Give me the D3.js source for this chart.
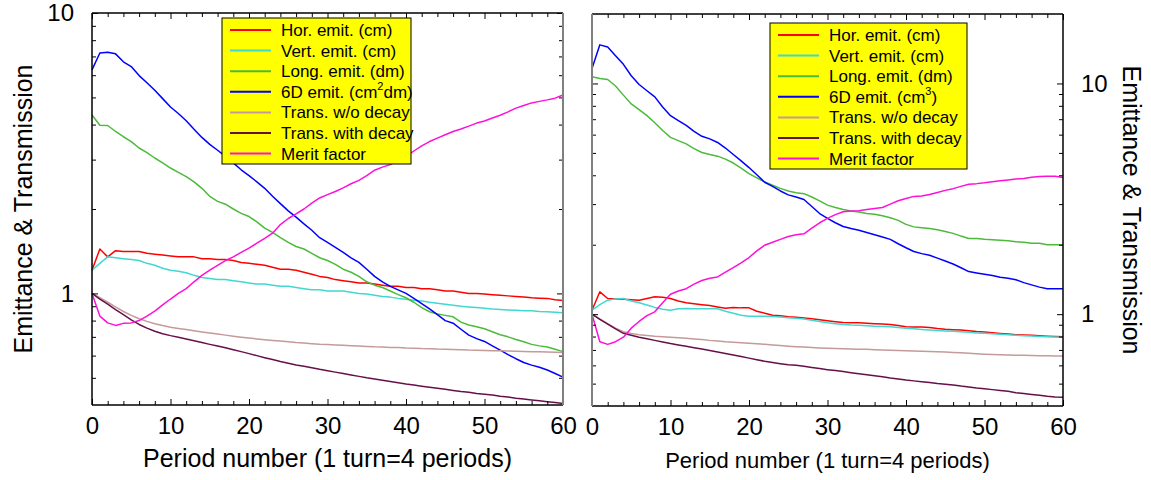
<!DOCTYPE html>
<html>
<head>
<meta charset="utf-8">
<script src="https://cdn.jsdelivr.net/npm/d3@7"></script>
<style>
  html, body { margin: 0; padding: 0; background: #fff; }
  svg { display: block; font-family: "Liberation Sans", Arial, Helvetica, sans-serif; }
</style>
</head>
<body>
<svg id="chart" width="1151" height="480"></svg>
<script>
// Period numbers 0..60 (1 turn = 4 periods)
const periods = d3.range(0, 61);

// ---- Left lattice ----
const leftHor = [1.21,1.44,1.35,1.42,1.41,1.41,1.41,1.39,1.38,1.37,1.36,1.35,1.35,1.35,1.33,1.33,1.32,1.32,1.31,1.29,1.28,1.27,1.26,1.24,1.22,1.22,1.21,1.19,1.17,1.15,1.14,1.12,1.11,1.10,1.09,1.09,1.08,1.07,1.06,1.06,1.05,1.05,1.04,1.04,1.03,1.02,1.02,1.01,1.00,1.00,0.995,0.99,0.985,0.98,0.975,0.97,0.965,0.962,0.96,0.95,0.943];
const leftVert = [1.21,1.28,1.35,1.34,1.33,1.32,1.31,1.28,1.26,1.23,1.21,1.20,1.185,1.16,1.14,1.13,1.12,1.12,1.11,1.10,1.09,1.08,1.08,1.07,1.06,1.06,1.05,1.04,1.03,1.03,1.02,1.02,1.02,1.01,1.00,0.995,0.985,0.975,0.97,0.96,0.953,0.945,0.94,0.93,0.922,0.915,0.908,0.90,0.895,0.89,0.885,0.88,0.877,0.873,0.87,0.868,0.867,0.862,0.86,0.856,0.853];
const leftLong = [4.33,3.98,3.97,3.78,3.62,3.48,3.30,3.18,3.04,2.92,2.80,2.70,2.61,2.50,2.37,2.22,2.13,2.08,2.00,1.93,1.88,1.80,1.71,1.65,1.58,1.52,1.47,1.44,1.39,1.34,1.31,1.27,1.22,1.19,1.15,1.10,1.07,1.05,1.02,0.99,0.965,0.93,0.89,0.86,0.845,0.835,0.825,0.79,0.772,0.76,0.748,0.73,0.712,0.70,0.685,0.672,0.658,0.65,0.644,0.632,0.62];
const left6D = [6.27,7.20,7.25,7.15,6.70,6.44,5.98,5.64,5.30,4.95,4.62,4.38,4.13,3.85,3.60,3.40,3.24,3.08,2.92,2.76,2.63,2.50,2.37,2.22,2.09,1.97,1.87,1.77,1.68,1.58,1.52,1.46,1.40,1.34,1.29,1.22,1.15,1.10,1.06,1.03,1.00,0.96,0.92,0.88,0.84,0.80,0.783,0.745,0.71,0.69,0.674,0.65,0.628,0.605,0.585,0.567,0.555,0.545,0.533,0.518,0.503];
const leftTransNoDecay = [1.0,0.965,0.93,0.895,0.862,0.835,0.812,0.795,0.78,0.768,0.758,0.75,0.743,0.736,0.729,0.722,0.716,0.71,0.704,0.698,0.693,0.688,0.684,0.68,0.676,0.672,0.668,0.665,0.662,0.659,0.657,0.655,0.653,0.651,0.649,0.647,0.645,0.644,0.642,0.641,0.639,0.638,0.636,0.635,0.633,0.632,0.631,0.63,0.628,0.627,0.626,0.625,0.624,0.623,0.622,0.621,0.62,0.619,0.618,0.617,0.616];
const leftTransDecay = [1.0,0.955,0.915,0.875,0.84,0.805,0.775,0.752,0.733,0.718,0.707,0.698,0.688,0.678,0.668,0.658,0.649,0.64,0.63,0.62,0.61,0.60,0.59,0.581,0.572,0.564,0.556,0.55,0.543,0.536,0.53,0.524,0.518,0.512,0.506,0.50,0.495,0.49,0.485,0.48,0.475,0.471,0.467,0.463,0.459,0.455,0.451,0.447,0.444,0.44,0.437,0.434,0.43,0.427,0.423,0.42,0.417,0.414,0.411,0.408,0.405];
const leftMerit = [1.0,0.83,0.785,0.769,0.782,0.785,0.80,0.83,0.865,0.91,0.955,1.0,1.04,1.10,1.16,1.21,1.26,1.31,1.35,1.40,1.45,1.51,1.57,1.64,1.76,1.85,1.92,2.0,2.10,2.19,2.25,2.31,2.38,2.46,2.53,2.63,2.75,2.82,2.88,2.98,3.08,3.22,3.36,3.48,3.58,3.68,3.78,3.86,3.95,4.05,4.12,4.22,4.32,4.44,4.58,4.68,4.78,4.84,4.90,4.97,5.10];

// ---- Right lattice ----
const rightHor = [1.04,1.25,1.17,1.165,1.16,1.155,1.15,1.17,1.19,1.185,1.17,1.14,1.12,1.11,1.10,1.09,1.075,1.06,1.07,1.065,1.065,1.03,1.01,0.99,0.985,0.975,0.97,0.962,0.955,0.945,0.936,0.928,0.92,0.918,0.918,0.914,0.91,0.906,0.903,0.893,0.882,0.88,0.879,0.876,0.866,0.86,0.856,0.853,0.847,0.841,0.838,0.831,0.825,0.82,0.815,0.812,0.81,0.806,0.803,0.80,0.798];
const rightVert = [1.04,1.10,1.15,1.165,1.17,1.14,1.12,1.095,1.07,1.05,1.04,1.055,1.058,1.056,1.055,1.055,1.055,1.03,1.01,0.99,0.98,0.98,0.98,0.978,0.972,0.965,0.96,0.952,0.942,0.93,0.918,0.91,0.903,0.898,0.895,0.89,0.886,0.884,0.882,0.876,0.87,0.864,0.859,0.855,0.85,0.846,0.843,0.839,0.834,0.829,0.826,0.822,0.818,0.814,0.81,0.807,0.804,0.801,0.798,0.796,0.794];
const rightLong = [10.7,10.5,10.4,9.75,8.9,8.15,7.7,7.25,6.76,6.25,5.84,5.65,5.47,5.22,5.02,4.92,4.84,4.70,4.52,4.30,4.07,3.90,3.74,3.62,3.51,3.42,3.36,3.33,3.22,3.10,2.97,2.90,2.84,2.80,2.77,2.73,2.71,2.67,2.62,2.55,2.45,2.39,2.37,2.35,2.32,2.28,2.24,2.18,2.13,2.13,2.11,2.10,2.09,2.08,2.06,2.05,2.03,2.03,2.0,2.0,2.0];
const right6D = [11.6,14.7,14.4,13.2,12.1,10.8,9.9,9.3,8.75,7.9,7.25,6.9,6.58,6.2,5.9,5.75,5.55,5.25,4.92,4.62,4.32,4.02,3.73,3.58,3.42,3.29,3.22,3.14,2.93,2.73,2.60,2.49,2.40,2.35,2.31,2.26,2.21,2.16,2.11,2.02,1.94,1.87,1.83,1.80,1.75,1.70,1.65,1.59,1.53,1.51,1.49,1.47,1.445,1.43,1.41,1.37,1.34,1.31,1.29,1.29,1.29];
const rightTransNoDecay = [1.0,0.955,0.91,0.87,0.84,0.825,0.815,0.808,0.802,0.798,0.794,0.79,0.786,0.781,0.776,0.77,0.766,0.76,0.756,0.752,0.748,0.744,0.74,0.736,0.731,0.727,0.723,0.72,0.717,0.714,0.712,0.71,0.708,0.706,0.705,0.704,0.702,0.70,0.698,0.696,0.695,0.693,0.691,0.689,0.688,0.686,0.683,0.68,0.677,0.673,0.67,0.668,0.667,0.665,0.664,0.663,0.662,0.661,0.66,0.659,0.658];
const rightTransDecay = [1.0,0.95,0.905,0.863,0.826,0.81,0.795,0.782,0.77,0.758,0.746,0.736,0.726,0.716,0.706,0.696,0.686,0.676,0.665,0.655,0.645,0.635,0.625,0.617,0.61,0.604,0.601,0.595,0.588,0.581,0.575,0.57,0.564,0.558,0.552,0.547,0.541,0.535,0.529,0.524,0.518,0.514,0.51,0.506,0.501,0.497,0.493,0.488,0.484,0.479,0.475,0.471,0.467,0.463,0.457,0.453,0.449,0.445,0.441,0.438,0.436];
const rightMerit = [1.0,0.76,0.74,0.76,0.795,0.87,0.93,0.985,1.024,1.12,1.22,1.26,1.29,1.35,1.40,1.43,1.45,1.52,1.59,1.67,1.76,1.88,1.99,2.05,2.11,2.17,2.21,2.23,2.36,2.49,2.60,2.70,2.78,2.80,2.81,2.84,2.87,2.90,3.0,3.10,3.17,3.24,3.25,3.30,3.37,3.44,3.50,3.58,3.66,3.68,3.71,3.75,3.79,3.82,3.85,3.87,3.92,3.95,3.96,3.96,3.91];

// Legend labels (the 6D unit differs between the two lattices)
const legendLeft = ["Hor. emit. (cm)", "Vert. emit. (cm)", "Long. emit. (dm)", ["6D emit. (cm", "2", "dm)"], "Trans. w/o decay", "Trans. with decay", "Merit factor"];
const legendRight = ["Hor. emit. (cm)", "Vert. emit. (cm)", "Long. emit. (dm)", ["6D emit. (cm", "3", ")"], "Trans. w/o decay", "Trans. with decay", "Merit factor"];

// Axis ticks and titles
const xMajorTicks = [0, 10, 20, 30, 40, 50, 60];
const xMinorTicks = d3.range(0, 61, 2).filter(v => v % 10 !== 0);
const yMajorTicks = [1, 10];
const yMinorTicks = [0.5, 0.6, 0.7, 0.8, 0.9, 2, 3, 4, 5, 6, 7, 8, 9];
const xTitle = "Period number (1 turn=4 periods)";
const yTitle = "Emittance & Transmission";

const seriesColors = ["#ff0000", "#40d8d0", "#4cbb3a", "#0000ff", "#c49a9a", "#66104a", "#ff10d8"];

const svg = d3.select("#chart");

function drawPanel(cfg) {
  const g = svg.append("g");
  const x = d3.scaleLinear().domain([0, 60]).range([cfg.left, cfg.right]);
  const y = d3.scaleLog().domain(cfg.yDomain).range([cfg.bottom, cfg.top]);

  // curves
  const line = d3.line().x((d, i) => x(periods[i])).y(d => y(d));
  cfg.series.forEach((s, i) => {
    g.append("path")
      .datum(s)
      .attr("fill", "none")
      .attr("stroke", seriesColors[i])
      .attr("stroke-width", 1.5)
      .attr("stroke-linejoin", "round")
      .attr("d", line);
  });

  // axes with inward ticks
  const yMinor = yMinorTicks.filter(v => v > cfg.yDomain[0] && v < cfg.yDomain[1]);
  const addAxis = (gen, tx, ty, values, size, labels, cls) => {
    const a = g.append("g").attr("transform", `translate(${tx},${ty})`).attr("class", cls)
      .call(gen.tickValues(values).tickSize(size).tickPadding(labels ? 8 : 0)
        .tickFormat(labels ? d3.format("d") : () => ""));
    a.select(".domain").remove();
    a.selectAll(".tick line").attr("stroke", "#000").attr("stroke-width", 1);
    a.selectAll(".tick text").attr("font-size", 24).attr("fill", "#000")
      .attr("font-family", "Liberation Sans, Arial, sans-serif");
    return a;
  };
  // bottom
  const xb = addAxis(d3.axisBottom(x), 0, cfg.bottom, xMajorTicks, -6, true, "xb");
  xb.selectAll(".tick text").attr("y", 12).attr("dy", "0.71em");
  addAxis(d3.axisBottom(x), 0, cfg.bottom, xMinorTicks, -4, false);
  // top
  addAxis(d3.axisTop(x), 0, cfg.top, xMajorTicks, -6, false);
  addAxis(d3.axisTop(x), 0, cfg.top, xMinorTicks, -4, false);
  // left
  const yl = addAxis(d3.axisLeft(y), cfg.left, 0, yMajorTicks, -6, cfg.labelSide === "left");
  addAxis(d3.axisLeft(y), cfg.left, 0, yMinor, -4, false);
  // right
  const yr = addAxis(d3.axisRight(y), cfg.right, 0, yMajorTicks, -6, cfg.labelSide === "right");
  addAxis(d3.axisRight(y), cfg.right, 0, yMinor, -4, false);
  if (cfg.labelSide === "left") yl.selectAll(".tick text").attr("x", -18);
  else yr.selectAll(".tick text").attr("x", 18);

  // frame
  const edge = (x1, y1, x2, y2, color, w) => g.append("line")
    .attr("x1", x1).attr("y1", y1).attr("x2", x2).attr("y2", y2)
    .attr("stroke", color).attr("stroke-width", w);
  edge(cfg.left, cfg.top, cfg.right, cfg.top, "#000", 1.5);
  edge(cfg.left, cfg.bottom, cfg.right, cfg.bottom, "#000", 1.5);
  edge(cfg.left, cfg.top, cfg.left, cfg.bottom, cfg.labelSide === "left" ? "#000" : "#808080", cfg.labelSide === "left" ? 1.5 : 2);
  edge(cfg.right, cfg.top, cfg.right, cfg.bottom, cfg.labelSide === "right" ? "#000" : "#808080", cfg.labelSide === "right" ? 1.5 : 2);

  // x title
  g.append("text")
    .attr("x", (cfg.left + cfg.right) / 2).attr("y", cfg.xTitleY)
    .attr("text-anchor", "middle").attr("font-size", cfg.xTitleSize).attr("fill", "#000")
    .text(xTitle);

  // y title
  g.append("text")
    .attr("transform", `translate(${cfg.yTitleX},${(cfg.top + cfg.bottom) / 2}) rotate(${cfg.labelSide === "left" ? -90 : 90})`)
    .attr("text-anchor", "middle").attr("dominant-baseline", "central")
    .attr("font-size", 25).attr("fill", "#000")
    .text(yTitle);

  // legend
  const lg = g.append("g");
  const lb = cfg.legendBox;
  lg.append("rect").attr("x", lb.x).attr("y", lb.y).attr("width", lb.w).attr("height", lb.h)
    .attr("fill", "#ffff00").attr("stroke", "#000").attr("stroke-width", 1);
  cfg.legend.forEach((lab, i) => {
    const cy = lb.y + 12 + i * 20.6;
    lg.append("line").attr("x1", lb.x + 8).attr("x2", lb.x + 49).attr("y1", cy).attr("y2", cy)
      .attr("stroke", seriesColors[i]).attr("stroke-width", 2);
    const t = lg.append("text").attr("x", lb.x + 59).attr("y", cy + 6)
      .attr("font-size", 17).attr("fill", "#000");
    if (Array.isArray(lab)) {
      t.append("tspan").text(lab[0]);
      t.append("tspan").attr("font-size", 11).attr("dy", -8).text(lab[1]);
      t.append("tspan").attr("dy", 8).text(lab[2]);
    } else {
      t.text(lab);
    }
  });
}

drawPanel({
  left: 92, right: 563, top: 13, bottom: 405,
  yDomain: [0.4, 10], labelSide: "left",
  series: [leftHor, leftVert, leftLong, left6D, leftTransNoDecay, leftTransDecay, leftMerit],
  legend: legendLeft,
  legendBox: { x: 222, y: 18, w: 189, h: 146 },
  xTitleY: 467, xTitleSize: 25, yTitleX: 23
});

drawPanel({
  left: 592, right: 1063, top: 14, bottom: 406,
  yDomain: [0.4, 20], labelSide: "right",
  series: [rightHor, rightVert, rightLong, right6D, rightTransNoDecay, rightTransDecay, rightMerit],
  legend: legendRight,
  legendBox: { x: 770, y: 23, w: 197, h: 146 },
  xTitleY: 468, xTitleSize: 22, yTitleX: 1132
});
</script>
</body>
</html>
